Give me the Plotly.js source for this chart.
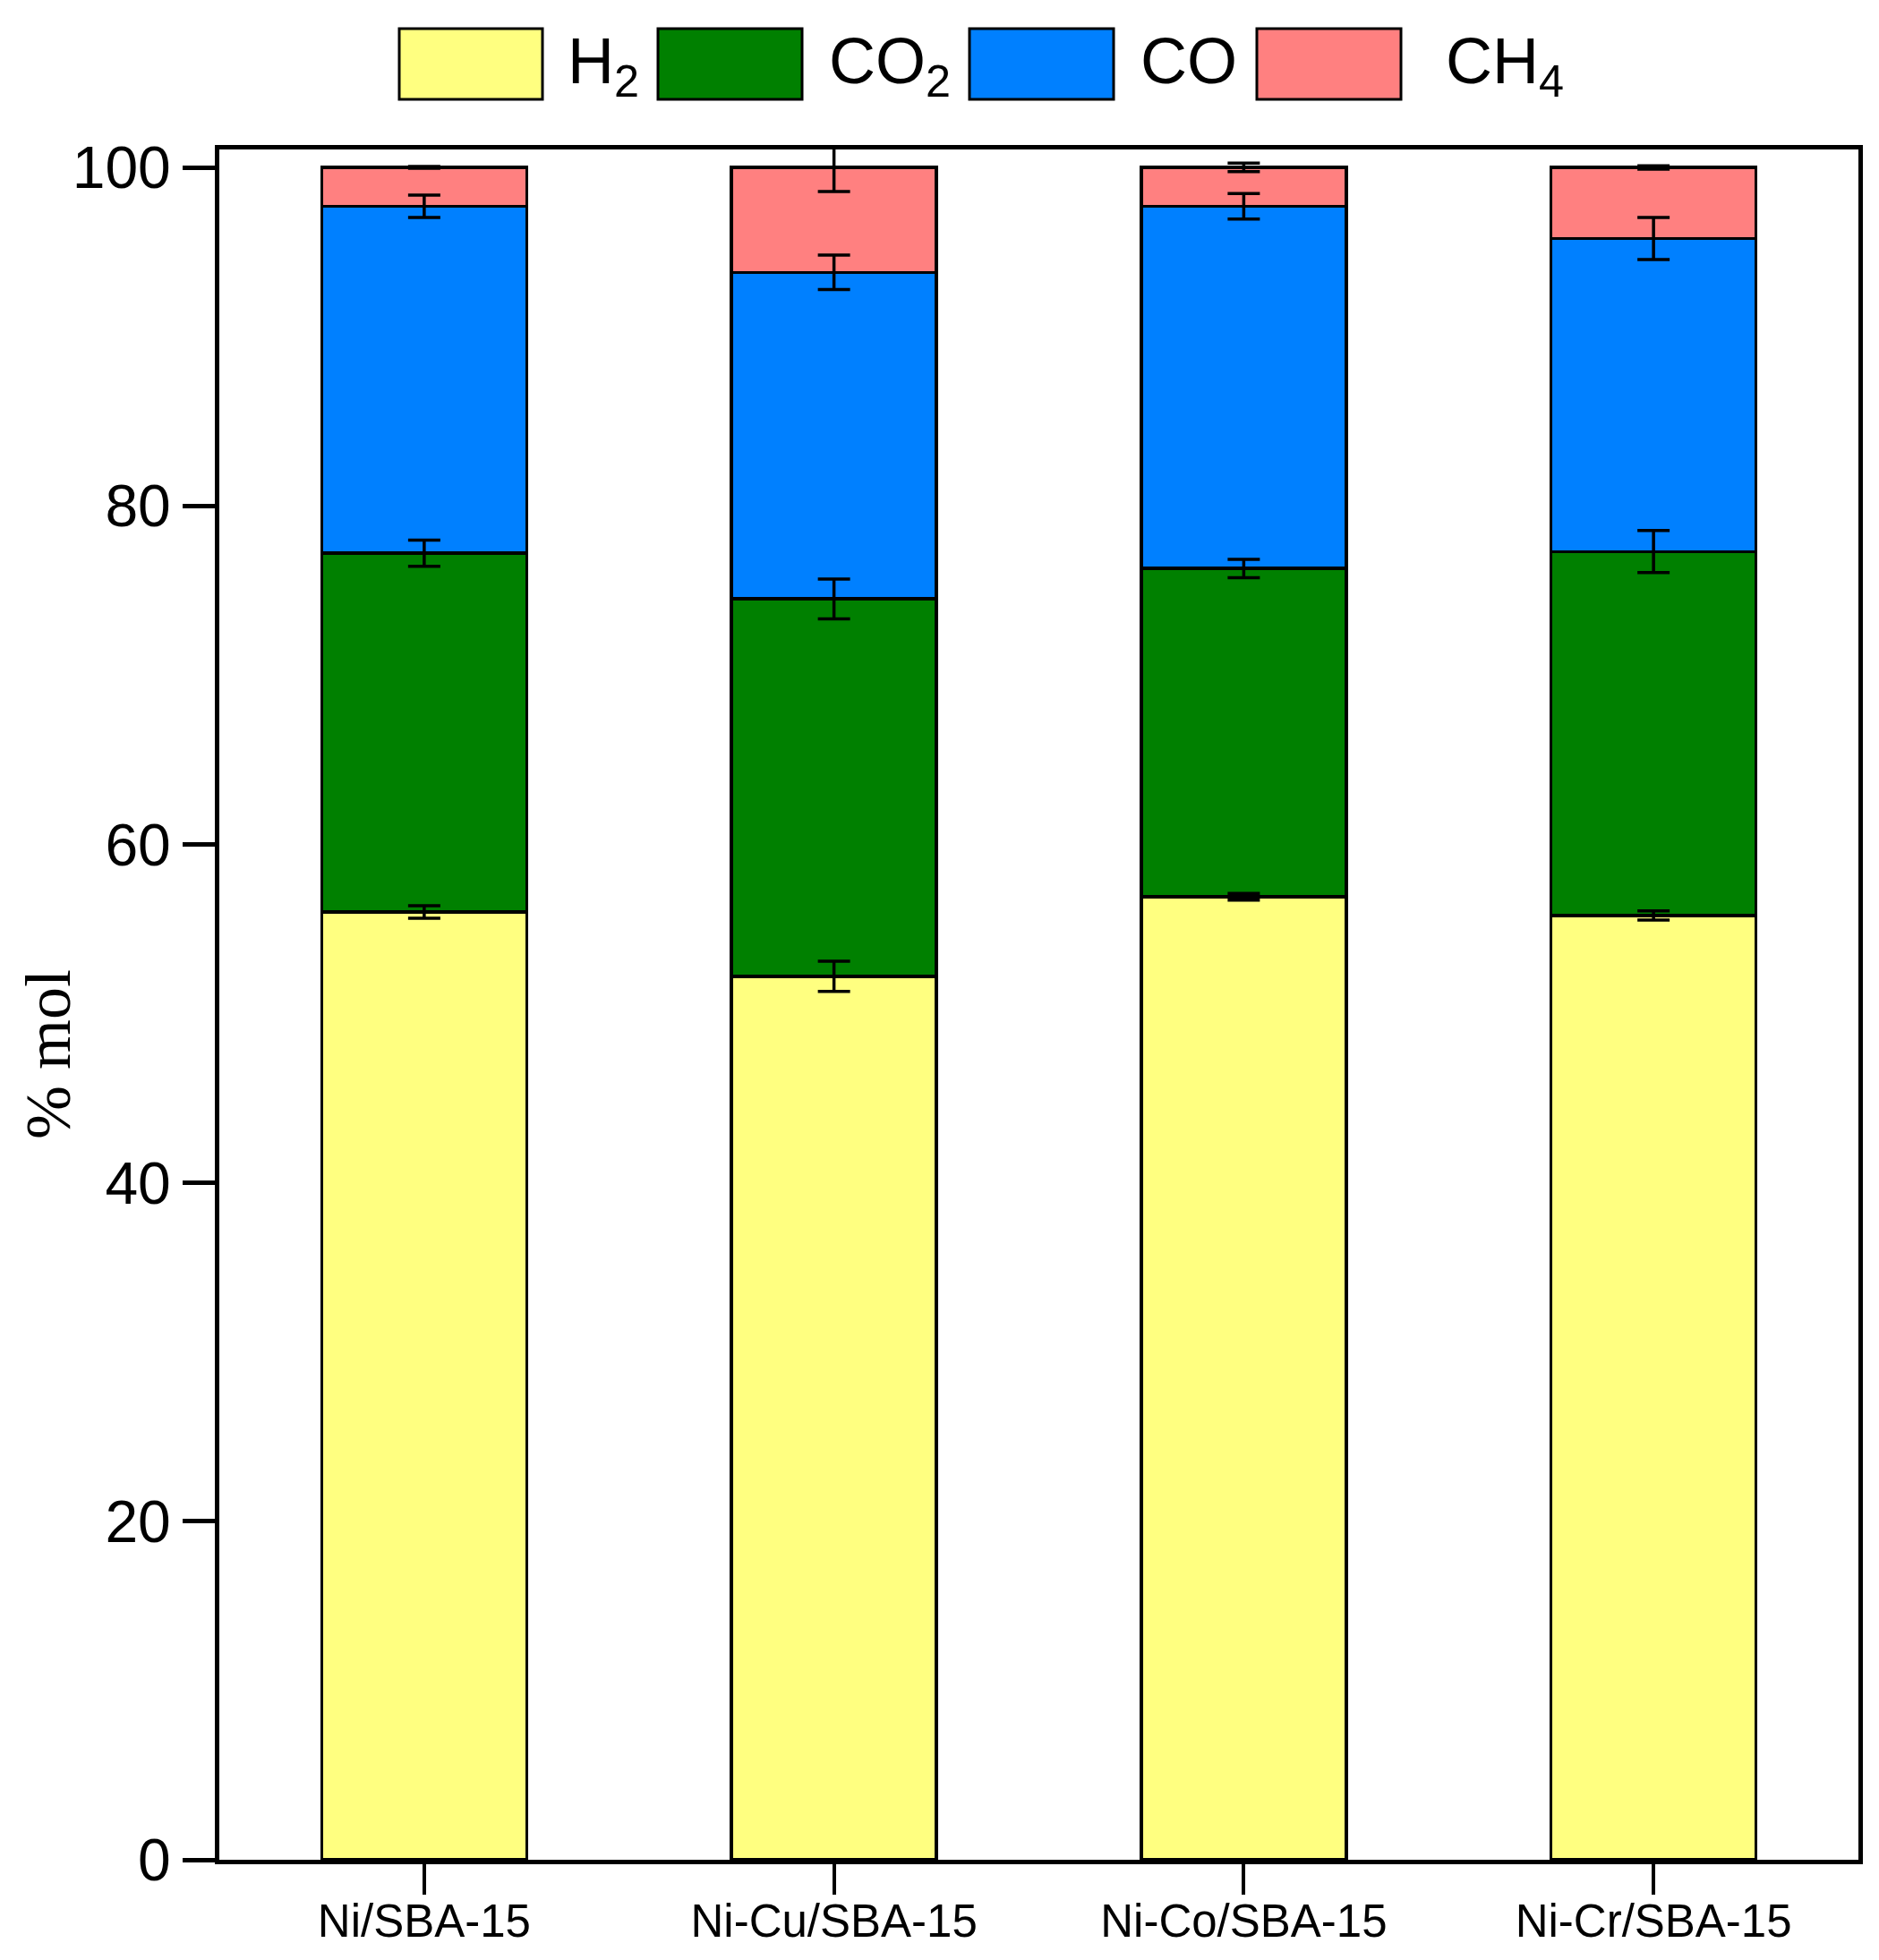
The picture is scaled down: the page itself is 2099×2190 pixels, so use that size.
<!DOCTYPE html>
<html>
<head>
<meta charset="utf-8">
<script src="https://cdn.plot.ly/plotly-3.0.1.min.js"></script>
<style>
  html, body { margin: 0; padding: 0; background: #fff; }
  #chart { width: 2099px; height: 2190px; }
</style>
</head>
<body>
<div id="chart"></div>
<script>
// catalysts on the x axis
var catalysts = ['Ni/SBA-15', 'Ni-Cu/SBA-15', 'Ni-Co/SBA-15', 'Ni-Cr/SBA-15'];

// gas composition, % mol
var h2  = [56.0, 52.2, 56.9, 55.8];
var co2 = [21.2, 22.3, 19.4, 21.5];
var co  = [20.5, 19.3, 21.4, 18.5];
var ch4 = [2.3, 6.2, 2.3, 4.2];

// standard deviations (error bars)
var h2Err  = [0.37, 0.89, 0.20, 0.27];
var co2Err = [0.77, 1.18, 0.54, 1.24];
var coErr  = [0.66, 1.02, 0.75, 1.24];
var ch4Err = [0.05, 1.42, 0.25, 0.10];

var seriesNames = ['H<sub>2</sub>', 'CO<sub>2</sub>', 'CO', 'CH<sub>4</sub>'];
var seriesColors = ['#FFFF80', '#008000', '#0080FF', '#FF8080'];
var yTicks = [0, 20, 40, 60, 80, 100];

var values = [h2, co2, co, ch4];
var errors = [h2Err, co2Err, coErr, ch4Err];

// pixel layout of the plot area
var L = 245, R = 2076, T = 167, B = 2078;
function px(p) { return (p - L) / (R - L); }
function py(p) { return (B - p) / (B - T); }

var data = [];
values.forEach(function (v, i) {
  data.push({
    type: 'bar',
    x: catalysts,
    y: v,
    name: seriesNames[i],
    width: 0.5,
    marker: { color: seriesColors[i], line: { color: '#000', width: 3.5 } },
    hoverinfo: 'skip'
  });
});

// error bars on top of each stacked segment, drawn over the bars
var running = catalysts.map(function () { return 0; });
values.forEach(function (v, i) {
  running = running.map(function (r, k) { return r + v[k]; });
  data.push({
    type: 'scatter',
    mode: 'markers',
    x: catalysts,
    y: running.slice(),
    marker: { size: 1, opacity: 0 },
    cliponaxis: false,
    showlegend: false,
    hoverinfo: 'skip',
    error_y: { type: 'data', array: errors[i], visible: true, color: '#000', thickness: 3.5, width: 18 }
  });
});

// hand made legend: big boxes like the original
var legendBoxes = [[446, 606], [735, 896], [1083, 1244], [1404, 1565]];
var legendText = [632, 924, 1272, 1613];
var shapes = [], annotations = [];
seriesNames.forEach(function (n, i) {
  shapes.push({
    type: 'rect', xref: 'paper', yref: 'paper',
    x0: px(legendBoxes[i][0]), x1: px(legendBoxes[i][1]),
    y0: py(111), y1: py(32),
    fillcolor: seriesColors[i], line: { color: '#000', width: 3 }
  });
  annotations.push({
    xref: 'paper', yref: 'paper', x: px(legendText[i]), y: py(26),
    xanchor: 'left', yanchor: 'top', showarrow: false, text: n,
    font: { family: 'Liberation Sans, Arial, sans-serif', size: 72, color: '#000' }
  });
});

annotations.push({
  xref: 'paper', yref: 'paper', x: px(54), y: py(1178),
  xanchor: 'center', yanchor: 'middle', showarrow: false, textangle: -90,
  text: '% mol',
  font: { family: 'Liberation Serif, Times New Roman, serif', size: 72, color: '#000' }
});

var layout = {
  width: 2099,
  height: 2190,
  margin: { l: L, r: 2099 - R, t: T, b: 2190 - B, pad: 0 },
  paper_bgcolor: '#fff',
  plot_bgcolor: '#fff',
  barmode: 'stack',
  showlegend: false,
  xaxis: {
    type: 'category',
    range: [-0.5, 3.5],
    showline: true, mirror: true, linecolor: '#000', linewidth: 5,
    ticks: 'outside', ticklen: 34, tickwidth: 4, tickcolor: '#000',
    ticklabelstandoff: -14,
    showgrid: false, zeroline: false,
    tickfont: { family: 'Liberation Sans, Arial, sans-serif', size: 51, color: '#000' }
  },
  yaxis: {
    range: [0, 101.06],
    tickvals: yTicks,
    showline: true, mirror: true, linecolor: '#000', linewidth: 5,
    ticks: 'outside', ticklen: 36, tickwidth: 5, tickcolor: '#000',
    showgrid: false, zeroline: false,
    tickfont: { family: 'Liberation Sans, Arial, sans-serif', size: 66, color: '#000' }
  },
  shapes: shapes,
  annotations: annotations
};

Plotly.newPlot('chart', data, layout, { displayModeBar: false, staticPlot: true });
</script>
</body>
</html>
